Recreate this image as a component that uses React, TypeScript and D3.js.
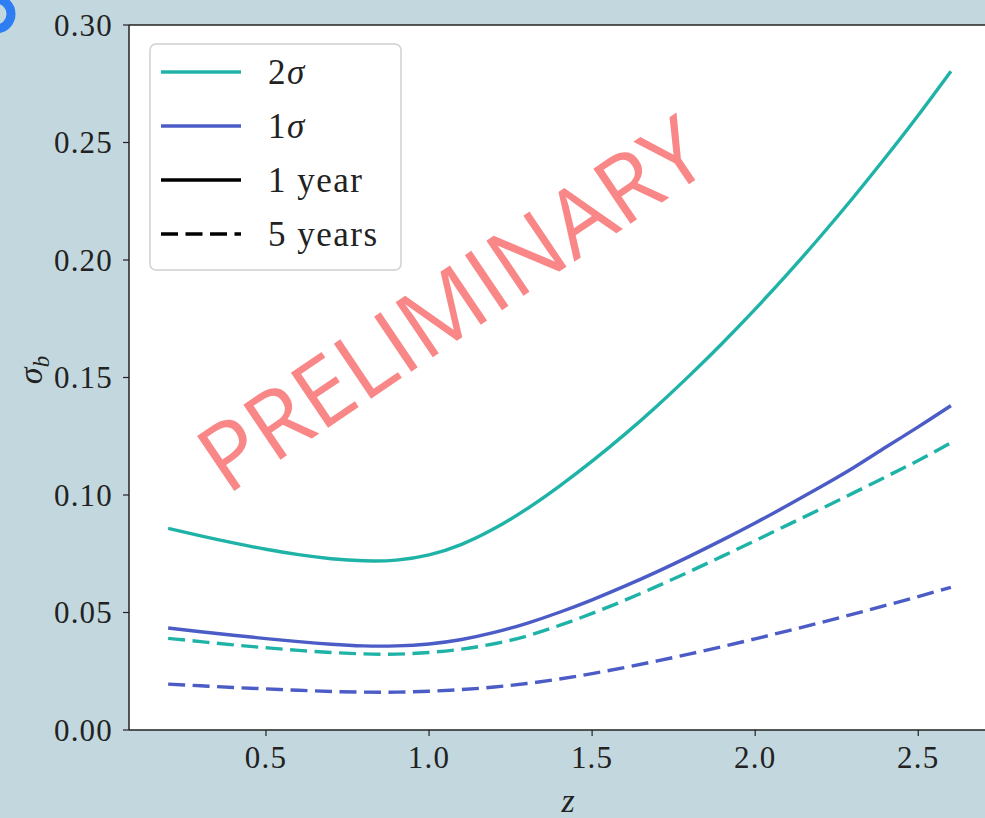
import React from "react";
import * as d3 from "d3";

const zValues = [0.2, 0.3, 0.4, 0.5, 0.6, 0.7, 0.8, 0.9, 1.0, 1.1, 1.2, 1.3, 1.4, 1.5, 1.6, 1.7, 1.8, 1.9, 2.0, 2.1, 2.2, 2.3, 2.4, 2.5, 2.6];
const sigma2_1yr = [0.0858, 0.0826, 0.0796, 0.0769, 0.0746, 0.0729, 0.072, 0.0723, 0.0745, 0.079, 0.0857, 0.0941, 0.1038, 0.1144, 0.1258, 0.138, 0.151, 0.1647, 0.1791, 0.1942, 0.21, 0.2265, 0.2437, 0.2616, 0.2803];
const sigma1_1yr = [0.0434, 0.0418, 0.0403, 0.0389, 0.0376, 0.0365, 0.0358, 0.0358, 0.0366, 0.0385, 0.0415, 0.0454, 0.0501, 0.0554, 0.0612, 0.0674, 0.074, 0.0809, 0.0881, 0.0956, 0.1034, 0.1115, 0.1203, 0.129, 0.138];
const sigma2_5yr = [0.039, 0.0376, 0.0362, 0.035, 0.0339, 0.033, 0.0324, 0.0323, 0.033, 0.0344, 0.0367, 0.04, 0.0445, 0.0496, 0.0552, 0.0612, 0.0675, 0.074, 0.0806, 0.0873, 0.094, 0.1008, 0.1077, 0.1147, 0.1222];
const sigma1_5yr = [0.0195, 0.0188, 0.0181, 0.0175, 0.0169, 0.0164, 0.0161, 0.0161, 0.0165, 0.0172, 0.0183, 0.0198, 0.0217, 0.024, 0.0266, 0.0294, 0.0324, 0.0355, 0.0388, 0.0422, 0.0457, 0.0493, 0.053, 0.0568, 0.0607];

const yTicks = [0, 0.05, 0.1, 0.15, 0.2, 0.25, 0.3];
const xTicks = [0.5, 1.0, 1.5, 2.0, 2.5];

const TEAL = "#1fb3a8";
const BLUE = "#4b5cc6";
const SERIF = "'Liberation Serif', 'DejaVu Serif', serif";
const DASH = "17,7.5";

export default function App() {
  const W = 985, H = 818;
  const x = d3.scaleLinear().domain([0.08, 2.72]).range([129, 990]);
  const y = d3.scaleLinear().domain([0, 0.3]).range([730, 25]);
  const line = (vals: number[]) =>
    d3.line<number>().x((_, i) => x(zValues[i])).y((v) => y(v)).curve(d3.curveNatural)(vals) || "";

  const series = [
    { vals: sigma2_1yr, color: TEAL, dash: undefined },
    { vals: sigma1_1yr, color: BLUE, dash: undefined },
    { vals: sigma2_5yr, color: TEAL, dash: DASH },
    { vals: sigma1_5yr, color: BLUE, dash: DASH },
  ];

  const legend = [
    { color: TEAL, dash: undefined, label: [["2", false], ["σ", true]] },
    { color: BLUE, dash: undefined, label: [["1", false], ["σ", true]] },
    { color: "#000", dash: undefined, label: [["1 year", false]] },
    { color: "#000", dash: DASH, label: [["5 years", false]] },
  ] as { color: string; dash?: string; label: [string, boolean][] }[];

  return (
    <svg width={W} height={H} style={{ position: "absolute", left: 0, top: 0, background: "#c3d8de" }}>
      <rect x={0} y={0} width={W} height={H} fill="#c3d8de" />
      <circle cx={-4} cy={14} r={15} fill="none" stroke="#2f7df2" strokeWidth={9} />
      <rect x={x(0.08)} y={y(0.3)} width={x(2.72) - x(0.08)} height={y(0) - y(0.3)} fill="#fff" />

      <text
        x={450}
        y={302}
        transform="rotate(-34 450 302)"
        textAnchor="middle"
        dominantBaseline="central"
        fontFamily="'Open Sans', 'Noto Sans', sans-serif"
        fontSize={93}
        fill="#f98787"
      >
        PRELIMINARY
      </text>

      {series.map((s, i) => (
        <path key={i} d={line(s.vals)} fill="none" stroke={s.color} strokeWidth={3.4} strokeDasharray={s.dash} />
      ))}

      {/* axes spines */}
      <line x1={x(0.08)} x2={x(0.08)} y1={y(0.3)} y2={y(0)} stroke="#222" strokeWidth={1.5} />
      <line x1={x(0.08)} x2={x(2.72)} y1={y(0)} y2={y(0)} stroke="#222" strokeWidth={1.5} />
      <line x1={x(0.08)} x2={x(2.72)} y1={y(0.3)} y2={y(0.3)} stroke="#222" strokeWidth={1.5} />
      <line x1={x(2.72)} x2={x(2.72)} y1={y(0.3)} y2={y(0)} stroke="#222" strokeWidth={1.5} />

      {yTicks.map((t) => (
        <g key={t}>
          <line x1={x(0.08) - 6} x2={x(0.08)} y1={y(t)} y2={y(t)} stroke="#222" strokeWidth={1.2} />
          <text x={x(0.08) - 16} y={y(t)} dy="0.35em" textAnchor="end" fontFamily={SERIF} fontSize={31} letterSpacing={1.2} fill="#222">
            {t.toFixed(2)}
          </text>
        </g>
      ))}
      {xTicks.map((t) => (
        <g key={t}>
          <line x1={x(t)} x2={x(t)} y1={y(0)} y2={y(0) + 6} stroke="#222" strokeWidth={1.2} />
          <text x={x(t)} y={y(0) + 38} textAnchor="middle" fontFamily={SERIF} fontSize={31} letterSpacing={1.2} fill="#222">
            {t.toFixed(1)}
          </text>
        </g>
      ))}

      <text x={568} y={812} textAnchor="middle" fontFamily={SERIF} fontStyle="italic" fontSize={34} fill="#222">
        z
      </text>
      <text transform="translate(42 370) rotate(-90)" textAnchor="middle" fontFamily={SERIF} fontSize={34} fill="#222">
        <tspan fontStyle="italic">σ</tspan>
        <tspan fontStyle="italic" fontSize={23} dy={7}>b</tspan>
      </text>

      {/* legend */}
      <rect x={150} y={44} width={251} height={226} rx={6} fill="#fff" fillOpacity={0.85} stroke="#d0d0d0" strokeWidth={1.5} />
      {legend.map((l, i) => {
        const ly = 72 + i * 54;
        return (
          <g key={i}>
            <line x1={161} x2={241} y1={ly} y2={ly} stroke={l.color} strokeWidth={3.6} strokeDasharray={l.dash} />
            <text x={268} y={ly} dy="0.35em" fontFamily={SERIF} fontSize={35} letterSpacing={1.5} fill="#222">
              {l.label.map(([s, it], j) => (
                <tspan key={j} fontStyle={it ? "italic" : "normal"}>{s}</tspan>
              ))}
            </text>
          </g>
        );
      })}
    </svg>
  );
}
